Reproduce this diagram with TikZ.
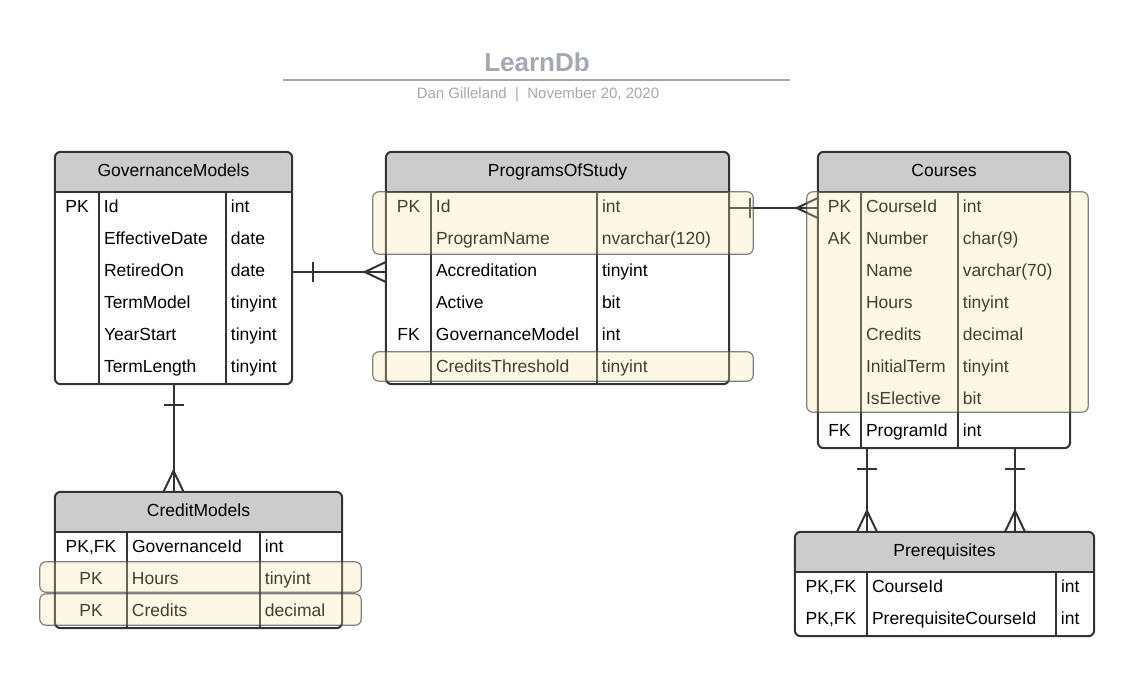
\documentclass[tikz,border=0pt]{standalone}
\usepackage{fontspec}
\setmainfont{Liberation Sans}
\usetikzlibrary{positioning,decorations.markings}

\definecolor{linecol}{HTML}{333333}
\definecolor{headfill}{HTML}{CCCCCC}
\definecolor{titlegray}{HTML}{A3A8B3}
\definecolor{hlfill}{RGB}{251,227,163}
\definecolor{hlline}{HTML}{4D4D4D}

\newlength{\keyw}\newlength{\namew}\newlength{\typew}
\newcommand{\fld}[3]{\makebox[\keyw]{#1}\makebox[\namew][l]{\hspace{5pt}#2}\makebox[\typew][l]{\hspace{5pt}#3}}

\begin{document}
\begin{tikzpicture}[x=1pt, y=1pt, node distance=32pt]
  \tikzstyle{head} = [rectangle, inner sep=0pt, minimum height=40pt,
    text height=14pt, text depth=5pt, font=\fontsize{17.5}{20}\selectfont,
    path picture={\fill [headfill, rounded corners=6pt]
      (path picture bounding box.south west) -- (path picture bounding box.north west)
      -- (path picture bounding box.north east) -- (path picture bounding box.south east);}]
  \tikzstyle{row} = [rectangle, inner sep=0pt, minimum height=32pt,
    text height=14pt, text depth=5pt, font=\fontsize{17.5}{20}\selectfont]
  \tikzstyle{tbl} = [draw=linecol, line width=2pt]
  \tikzstyle{hilite} = [fill=hlfill, fill opacity=0.28, draw=hlline, draw opacity=0.7,
    line width=1.2pt, rounded corners=6pt]
  \tikzstyle{one2many} = [draw=linecol, line width=2pt, postaction={decorate},
    decoration={markings,
      mark=at position 21pt with {\draw [linecol, line width=2pt] (0,-10pt) -- (0,10pt);},
      mark=at position -21pt with {\draw [linecol, line width=2pt] (21pt,-10pt) -- (0,0) -- (21pt,10pt);}}]

  \fill [white, use as bounding box] (0,0) rectangle (1135,-676);

  % Title
  \node [font=\fontsize{26}{30}\selectfont\bfseries, text=titlegray] (title) at (537,-62) {LearnDb};
  \draw [titlegray, line width=2pt] (283,-80) -- (790,-80);
  \node [font=\fontsize{15}{18}\selectfont, text=titlegray] (byline) at (538,-95)
        {Dan Gilleland~~|~~November 20, 2020};

  % GovernanceModels
  \setlength{\keyw}{44pt}\setlength{\namew}{127pt}\setlength{\typew}{66pt}
  \node [head, minimum width=237pt] (gm) at (173.5,-172) {GovernanceModels};
  \node [row, below of=gm, node distance=36pt] (gm1) {\fld{PK}{Id}{int}};
  \node [row, below of=gm1] (gm2) {\fld{}{EffectiveDate}{date}};
  \node [row, below of=gm2] (gm3) {\fld{}{RetiredOn}{date}};
  \node [row, below of=gm3] (gm4) {\fld{}{TermModel}{tinyint}};
  \node [row, below of=gm4] (gm5) {\fld{}{YearStart}{tinyint}};
  \node [row, below of=gm5] (gm6) {\fld{}{TermLength}{tinyint}};

  % ProgramsOfStudy
  \setlength{\keyw}{45pt}\setlength{\namew}{166pt}\setlength{\typew}{132pt}
  \node [head, minimum width=343pt] (pos) at (557.5,-172) {ProgramsOfStudy};
  \node [row, below of=pos, node distance=36pt] (pos1) {\fld{PK}{Id}{int}};
  \node [row, below of=pos1] (pos2) {\fld{}{ProgramName}{nvarchar(120)}};
  \node [row, below of=pos2] (pos3) {\fld{}{Accreditation}{tinyint}};
  \node [row, below of=pos3] (pos4) {\fld{}{Active}{bit}};
  \node [row, below of=pos4] (pos5) {\fld{FK}{GovernanceModel}{int}};
  \node [row, below of=pos5] (pos6) {\fld{}{CreditsThreshold}{tinyint}};

  % Courses
  \setlength{\keyw}{43pt}\setlength{\namew}{97pt}\setlength{\typew}{112pt}
  \node [head, minimum width=252pt] (crs) at (944,-172) {Courses};
  \node [row, below of=crs, node distance=36pt] (crs1) {\fld{PK}{CourseId}{int}};
  \node [row, below of=crs1] (crs2) {\fld{AK}{Number}{char(9)}};
  \node [row, below of=crs2] (crs3) {\fld{}{Name}{varchar(70)}};
  \node [row, below of=crs3] (crs4) {\fld{}{Hours}{tinyint}};
  \node [row, below of=crs4] (crs5) {\fld{}{Credits}{decimal}};
  \node [row, below of=crs5] (crs6) {\fld{}{InitialTerm}{tinyint}};
  \node [row, below of=crs6] (crs7) {\fld{}{IsElective}{bit}};
  \node [row, below of=crs7] (crs8) {\fld{FK}{ProgramId}{int}};

  % CreditModels
  \setlength{\keyw}{72pt}\setlength{\namew}{133pt}\setlength{\typew}{82pt}
  \node [head, minimum width=287pt] (cm) at (198.5,-512) {CreditModels};
  \node [row, below of=cm, node distance=36pt] (cm1) {\fld{PK,FK}{GovernanceId}{int}};
  \node [row, below of=cm1] (cm2) {\fld{PK}{Hours}{tinyint}};
  \node [row, below of=cm2] (cm3) {\fld{PK}{Credits}{decimal}};

  % Prerequisites
  \setlength{\keyw}{72pt}\setlength{\namew}{189pt}\setlength{\typew}{38pt}
  \node [head, minimum width=299pt] (pre) at (944.5,-552) {Prerequisites};
  \node [row, below of=pre, node distance=36pt] (pre1) {\fld{PK,FK}{CourseId}{int}};
  \node [row, below of=pre1] (pre2) {\fld{PK,FK}{PrerequisiteCourseId}{int}};

  % Table frames
  \foreach \h/\a/\b/\k/\n in {gm/gm1/gm6/44pt/171pt, pos/pos1/pos6/45pt/211pt,
      crs/crs1/crs8/43pt/140pt, cm/cm1/cm3/72pt/205pt, pre/pre1/pre2/72pt/261pt} {
    \draw [tbl] (\h.south west) -- (\h.south east);
    \draw [tbl] ([xshift=\k]\a.north west) -- ([xshift=\k]\b.south west);
    \draw [tbl] ([xshift=\n]\a.north west) -- ([xshift=\n]\b.south west);
    \draw [tbl, rounded corners=6pt] (\h.north west) rectangle (\b.south east);
  }

  % Relationships
  \path [one2many] (gm3) -- (pos3);
  \path [one2many] (pos1) -- (crs1);
  \path [one2many] (gm6.south) -- (gm6.south |- cm.north);
  \path [one2many] ([xshift=-77pt]crs8.south) -- ([xshift=-77pt]crs8.south |- pre.north);
  \path [one2many] ([xshift=71pt]crs8.south) -- ([xshift=71pt]crs8.south |- pre.north);

  % Highlighted rows
  \draw [hilite] ([xshift=-13pt]pos1.north west) rectangle ([xshift=24pt,yshift=2pt]pos2.south east);
  \draw [hilite] ([xshift=-13pt]pos6.north west) rectangle ([xshift=24pt,yshift=3pt]pos6.south east);
  \draw [hilite] ([xshift=-11pt]crs1.north west) rectangle ([xshift=18pt,yshift=4pt]crs7.south east);
  \draw [hilite] ([xshift=-15pt,yshift=2pt]cm2.north west) rectangle ([xshift=19pt,yshift=4pt]cm2.south east);
  \draw [hilite] ([xshift=-15pt,yshift=2pt]cm3.north west) rectangle ([xshift=19pt,yshift=3pt]cm3.south east);
\end{tikzpicture}
\end{document}
